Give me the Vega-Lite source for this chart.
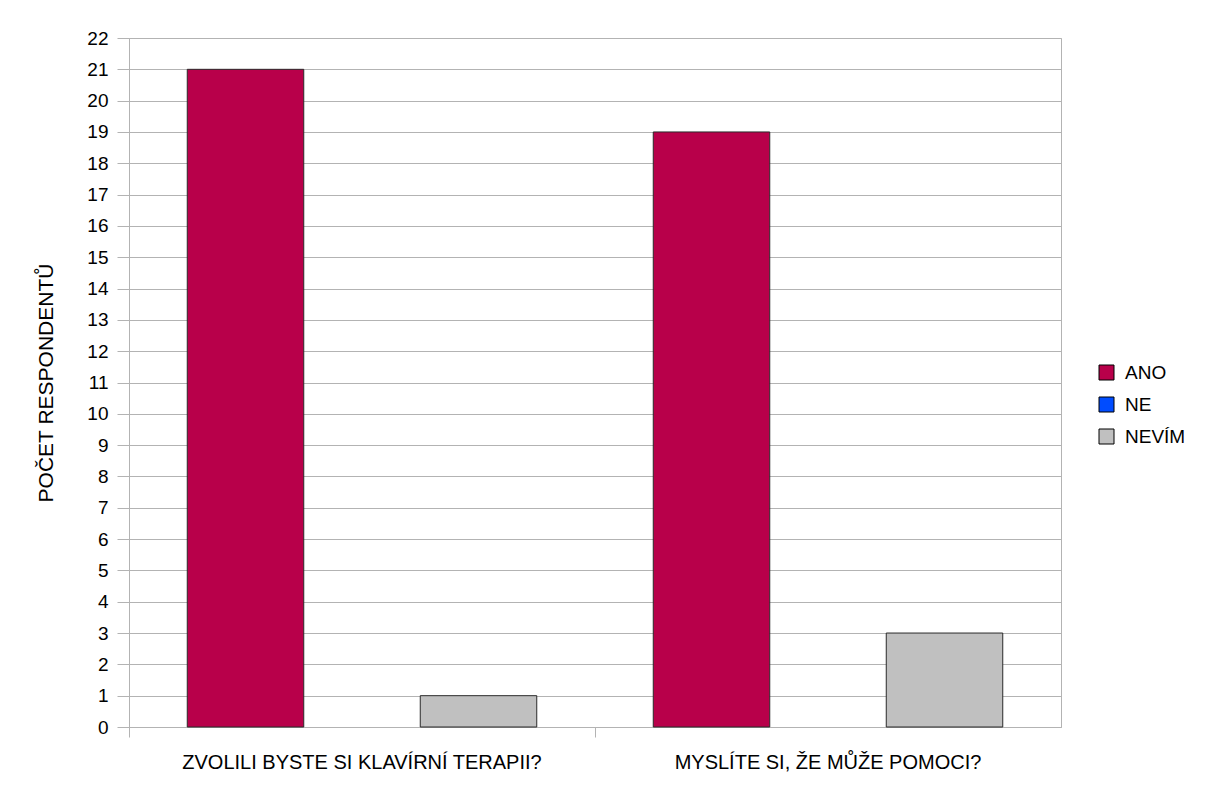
{
  "$schema": "https://vega.github.io/schema/vega-lite/v6.json",
  "autosize": {"type": "none"},
  "padding": {"left": 129, "top": 38, "right": 148, "bottom": 74},
  "width": 932,
  "height": 689,
  "background": "#ffffff",
  "data": {
    "values": [
      {"otazka": "ZVOLILI BYSTE SI KLAVÍRNÍ TERAPII?", "odpoved": "ANO", "pocet": 21},
      {"otazka": "ZVOLILI BYSTE SI KLAVÍRNÍ TERAPII?", "odpoved": "NE", "pocet": 0},
      {"otazka": "ZVOLILI BYSTE SI KLAVÍRNÍ TERAPII?", "odpoved": "NEVÍM", "pocet": 1},
      {"otazka": "MYSLÍTE SI, ŽE MŮŽE POMOCI?", "odpoved": "ANO", "pocet": 19},
      {"otazka": "MYSLÍTE SI, ŽE MŮŽE POMOCI?", "odpoved": "NE", "pocet": 0},
      {"otazka": "MYSLÍTE SI, ŽE MŮŽE POMOCI?", "odpoved": "NEVÍM", "pocet": 3}
    ]
  },
  "mark": {"type": "bar", "stroke": "#2a2a2a", "cornerRadius": 0},
  "encoding": {
    "x": {
      "field": "otazka",
      "type": "nominal",
      "sort": ["ZVOLILI BYSTE SI KLAVÍRNÍ TERAPII?", "MYSLÍTE SI, ŽE MŮŽE POMOCI?"],
      "scale": {"paddingInner": 0, "paddingOuter": 0},
      "axis": {
        "title": null,
        "labelAngle": 0,
        "bandPosition": 0,
        "labelLimit": 0,
        "labelFontSize": 20,
        "labelPadding": 15,
        "tickSize": 10,
        "grid": false
      }
    },
    "xOffset": {
      "field": "odpoved",
      "type": "nominal",
      "sort": ["ANO", "NE", "NEVÍM"],
      "scale": {"paddingInner": 0, "paddingOuter": 0.5}
    },
    "y": {
      "field": "pocet",
      "type": "quantitative",
      "scale": {"domain": [0, 22], "nice": false},
      "axis": {
        "title": "POČET RESPONDENTŮ",
        "values": [0, 1, 2, 3, 4, 5, 6, 7, 8, 9, 10, 11, 12, 13, 14, 15, 16, 17, 18, 19, 20, 21, 22],
        "tickSize": 12,
        "labelPadding": 9,
        "titlePadding": 30,
        "grid": true
      }
    },
    "fill": {
      "field": "odpoved",
      "type": "nominal",
      "sort": ["ANO", "NE", "NEVÍM"],
      "scale": {"domain": ["ANO", "NE", "NEVÍM"], "range": ["#b8004a", "#004cff", "#c0c0c0"]},
      "legend": {
        "title": null,
        "orient": "none",
        "legendX": 968,
        "legendY": 325,
        "symbolType": "square",
        "symbolSize": 225,
        "symbolStrokeColor": "#000000",
        "symbolStrokeWidth": 1,
        "symbolOpacity": 1,
        "labelFontSize": 19,
        "labelOffset": 9,
        "rowPadding": 12,
        "padding": 0
      }
    },
    "strokeWidth": {
      "condition": {"test": "datum.pocet == 0", "value": 0},
      "value": 1
    }
  },
  "config": {
    "font": "Liberation Sans",
    "view": {"stroke": "#b3b3b3", "strokeWidth": 1},
    "axis": {
      "domainColor": "#b3b3b3",
      "tickColor": "#b3b3b3",
      "gridColor": "#b3b3b3",
      "gridOpacity": 1,
      "labelColor": "#000000",
      "labelFont": "Liberation Sans",
      "labelFontSize": 19,
      "titleFont": "Liberation Sans",
      "titleFontSize": 21,
      "titleFontWeight": "normal",
      "titleColor": "#000000"
    },
    "legend": {"labelColor": "#000000", "labelFont": "Liberation Sans"}
  }
}
